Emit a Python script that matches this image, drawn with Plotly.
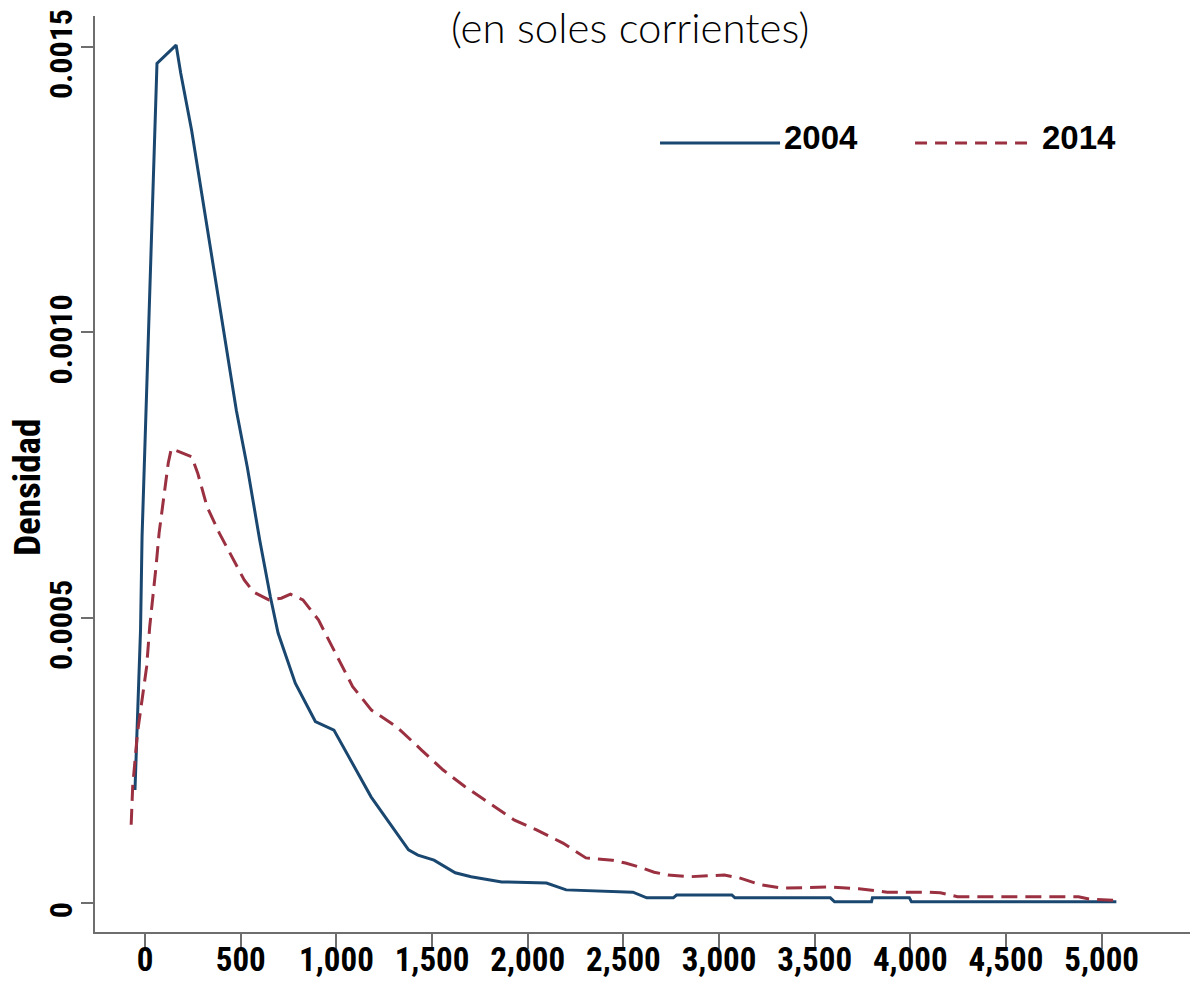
import plotly.graph_objects as go

# Kernel density estimates of income (soles), 2004 vs 2014
x_2004 = [-53, -35, -24, -16, 0, 16, 33, 45, 62, 162, 186, 243, 299, 356, 413, 477,
          534, 599, 655, 695, 785, 890, 987, 1069, 1181, 1314, 1377, 1426, 1510, 1621,
          1704, 1864, 2098, 2201, 2550, 2622, 2761, 2778, 3067, 3083, 3582, 3604, 3797,
          3802, 3995, 4006, 5077]
d_2004 = [1.98, 3.96, 4.78, 6.42, 8.06, 9.74, 11.38, 12.96, 14.71, 15.03, 14.54, 13.54,
          12.37, 11.21, 10.03, 8.63, 7.64, 6.36, 5.36, 4.73, 3.85, 3.18, 3.03, 2.54, 1.86,
          1.23, 0.93, 0.84, 0.75, 0.53, 0.46, 0.37, 0.35, 0.23, 0.19, 0.09, 0.09, 0.14,
          0.14, 0.09, 0.09, 0.02, 0.02, 0.09, 0.09, 0.02, 0.02]

x_2014 = [-73, -65, -40, -16, 8, 24, 40, 57, 73, 97, 121, 137, 194, 243, 275, 324, 388,
          453, 518, 566, 647, 712, 760, 825, 906, 987, 1085, 1183, 1314, 1445, 1558, 1671,
          1801, 1931, 2046, 2184, 2304, 2443, 2511, 2583, 2661, 2733, 2844, 3028, 3106,
          3217, 3328, 3582, 3731, 3879, 4101, 4157, 4247, 4879, 4934, 5061]
d_2014 = [1.37, 2.04, 2.98, 3.56, 4.14, 4.84, 5.31, 5.89, 6.48, 7.06, 7.71, 7.96, 7.88,
          7.82, 7.53, 6.94, 6.48, 6.06, 5.66, 5.45, 5.31, 5.34, 5.41, 5.31, 4.96, 4.43,
          3.79, 3.38, 3.09, 2.68, 2.33, 2.04, 1.75, 1.45, 1.28, 1.05, 0.79, 0.75, 0.70,
          0.63, 0.54, 0.49, 0.46, 0.49, 0.44, 0.32, 0.26, 0.28, 0.25, 0.19, 0.19, 0.18,
          0.11, 0.11, 0.07, 0.05]

# densities above are in units of 1e-4
scale = 1e-4

x_ticks = [0, 500, 1000, 1500, 2000, 2500, 3000, 3500, 4000, 4500, 5000]
x_tick_text = ["0", "500", "1,000", "1,500", "2,000", "2,500", "3,000", "3,500",
               "4,000", "4,500", "5,000"]
y_ticks = [0, 0.0005, 0.0010, 0.0015]
y_tick_text = ["0", "0.0005", "0.0010", "0.0015"]

series_names = ["2004", "2014"]
navy = "#1a476f"
maroon = "#9a3040"
axis_gray = "#6e6e6e"
tick_font = "Liberation Sans Narrow, Roboto Condensed, DejaVu Sans Condensed, sans-serif"

fig = go.Figure()
fig.add_trace(go.Scatter(x=x_2004, y=[v * scale for v in d_2004], mode="lines",
                         name=series_names[0], line=dict(color=navy, width=3)))
fig.add_trace(go.Scatter(x=x_2014, y=[v * scale for v in d_2014], mode="lines",
                         name=series_names[1],
                         line=dict(color=maroon, width=3, dash="16px,8px")))

fig.update_layout(
    width=1194, height=983,
    margin=dict(l=95, r=4, t=16, b=51),
    paper_bgcolor="white", plot_bgcolor="white",
    showlegend=False,
    xaxis=dict(range=[-262, 5462], tickvals=x_ticks, ticktext=x_tick_text,
               automargin=False,
               showgrid=False, zeroline=False, showline=True, linecolor=axis_gray,
               linewidth=2, ticks="outside", ticklen=15, tickwidth=2,
               tickcolor=axis_gray, ticklabelstandoff=-18,
               tickfont=dict(family=tick_font, size=33, color="black", weight="bold")),
    yaxis=dict(range=[-0.0000508, 0.001554], tickvals=y_ticks, ticktext=y_tick_text,
               automargin=False,
               showgrid=False, zeroline=False, showline=True, linecolor=axis_gray,
               linewidth=2, ticks="outside", ticklen=12, tickwidth=2,
               tickcolor=axis_gray, tickangle=-90, ticklabeloverflow="allow",
               ticklabelstandoff=-4, ticklabelshift=12,
               tickfont=dict(family=tick_font, size=32, color="black", weight="bold")),
)

# y-axis title
fig.add_annotation(text="Densidad", xref="paper", yref="paper", x=-0.0612, y=0.486,
                   textangle=-90, showarrow=False, xanchor="center", yanchor="middle",
                   font=dict(family=tick_font, size=37, color="black", weight="bold"))

# subtitle at the top edge
fig.add_annotation(text="(en soles corrientes)", xref="paper", yref="paper",
                   x=0.4886, y=1.0175, showarrow=False, xanchor="center",
                   yanchor="top",
                   font=dict(family="Lato, DejaVu Sans, sans-serif", size=42,
                             color="black", weight=300))

# legend keys
legend_font = dict(family="Liberation Sans, Arial, sans-serif", size=33,
                   color="black", weight="bold")
fig.add_shape(type="line", xref="paper", yref="paper", x0=0.5160, x1=0.6256,
              y0=0.8614, y1=0.8614, line=dict(color=navy, width=3))
fig.add_annotation(text=series_names[0], xref="paper", yref="paper", x=0.6274, y=0.8679,
                   showarrow=False, xanchor="left", yanchor="middle", font=legend_font)
fig.add_shape(type="line", xref="paper", yref="paper", x0=0.7489, x1=0.8584,
              y0=0.8614, y1=0.8614, line=dict(color=maroon, width=3, dash="12px,8px"))
fig.add_annotation(text=series_names[1], xref="paper", yref="paper", x=0.8630, y=0.8679,
                   showarrow=False, xanchor="left", yanchor="middle", font=legend_font)

fig.write_html("out.html")
